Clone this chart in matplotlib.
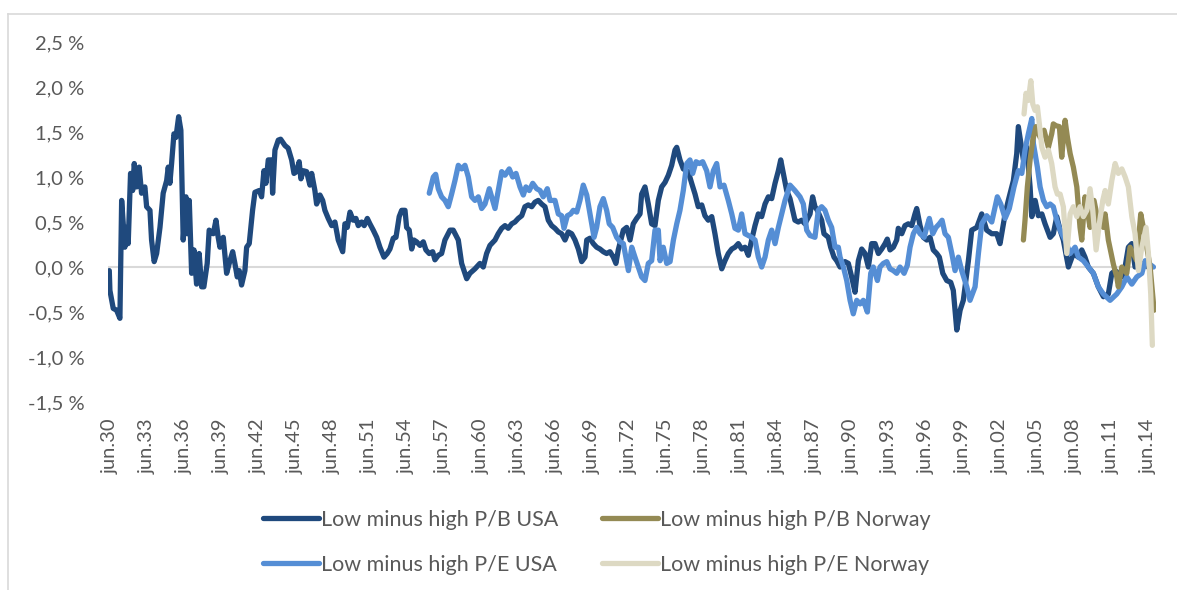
import matplotlib
matplotlib.use("Agg")
import matplotlib.pyplot as plt
from matplotlib.lines import Line2D
from matplotlib.ticker import FuncFormatter

# Low minus high P/B, USA (decimal year, % per month)
pb_usa_t = [1930.45, 1930.5, 1930.77, 1931.04, 1931.31, 1931.45, 1931.71, 1931.85, 1931.98, 1932.17,
            1932.34, 1932.47, 1932.66, 1932.87, 1933.06, 1933.33, 1933.47, 1933.74, 1933.87, 1934.08,
            1934.28, 1934.55, 1934.81, 1935.09, 1935.22, 1935.35, 1935.49, 1935.68, 1935.84, 1936.06,
            1936.24, 1936.43, 1936.65, 1936.75, 1936.92, 1937.11, 1937.30, 1937.51, 1937.72, 1937.92,
            1938.10, 1938.37, 1938.53, 1938.86, 1939.08, 1939.26, 1939.40, 1939.67, 1939.94, 1940.21,
            1940.43, 1940.61, 1940.80, 1940.96, 1941.15, 1941.42, 1941.56, 1941.77, 1942.04, 1942.23,
            1942.58, 1942.77, 1942.96, 1943.12, 1943.31, 1943.58, 1943.66, 1943.85, 1944.12, 1944.31,
            1944.66, 1944.92, 1945.20, 1945.39, 1945.60, 1945.81, 1945.95, 1946.14, 1946.41, 1946.68,
            1946.82, 1947.08, 1947.22, 1947.49, 1947.71, 1947.89, 1948.16, 1948.44, 1948.70, 1948.97,
            1949.33, 1949.51, 1949.70, 1949.92, 1950.18, 1950.40, 1950.59, 1950.86, 1951.07, 1951.32,
            1951.53, 1951.80, 1952.08, 1952.34, 1952.67, 1952.93, 1953.15, 1953.42, 1953.64, 1953.90,
            1954.10, 1954.37, 1954.50, 1954.71, 1954.91, 1955.09, 1955.31, 1955.58, 1955.85, 1956.06,
            1956.33, 1956.61, 1956.79, 1957.06, 1957.33, 1957.60, 1958.01, 1958.27, 1958.68, 1958.95,
            1959.36, 1959.62, 1960.03, 1960.43, 1960.70, 1960.97, 1961.24, 1961.65, 1961.91, 1962.19,
            1962.46, 1962.72, 1963.00, 1963.26, 1963.53, 1963.81, 1964.07, 1964.34, 1964.62, 1964.88,
            1965.15, 1965.42, 1965.69, 1965.96, 1966.23, 1966.50, 1966.77, 1967.04, 1967.31, 1967.58,
            1967.85, 1968.12, 1968.39, 1968.66, 1968.93, 1969.07, 1969.33, 1969.60, 1969.87, 1970.14,
            1970.41, 1970.68, 1970.95, 1971.22, 1971.43, 1971.62, 1972.03, 1972.30, 1972.57, 1972.83,
            1973.11, 1973.38, 1973.51, 1973.78, 1974.05, 1974.32, 1974.59, 1974.86, 1975.13, 1975.40,
            1975.67, 1975.94, 1976.21, 1976.35, 1976.61, 1976.88, 1977.28, 1977.56, 1977.83, 1978.09,
            1978.37, 1978.63, 1978.90, 1979.18, 1979.44, 1979.71, 1979.99, 1980.25, 1980.52, 1980.80,
            1981.06, 1981.33, 1981.60, 1981.87, 1982.14, 1982.41, 1982.68, 1982.95, 1983.22, 1983.49,
            1983.76, 1984.03, 1984.30, 1984.57, 1984.76, 1984.97, 1985.24, 1985.51, 1985.91, 1986.18,
            1986.45, 1986.72, 1987.13, 1987.34, 1987.53, 1987.72, 1988.07, 1988.26, 1988.61, 1988.80,
            1989.07, 1989.29, 1989.56, 1989.96, 1990.23, 1990.50, 1990.77, 1991.04, 1991.31, 1991.58,
            1991.85, 1992.12, 1992.39, 1992.66, 1992.93, 1993.20, 1993.38, 1993.60, 1993.87, 1994.14,
            1994.27, 1994.55, 1994.81, 1995.08, 1995.36, 1995.62, 1995.76, 1996.03, 1996.30, 1996.57,
            1996.84, 1997.10, 1997.38, 1997.59, 1997.87, 1998.19, 1998.51, 1998.72, 1998.86, 1999.00,
            1999.27, 1999.53, 1999.94, 2000.21, 2000.62, 2001.02, 2001.42, 2001.83, 2002.23, 2002.50,
            2002.91, 2003.17, 2003.58, 2003.85, 2003.98, 2004.39, 2004.66, 2004.93, 2005.07, 2005.34,
            2005.60, 2005.88, 2006.14, 2006.55, 2006.81, 2007.09, 2007.36, 2007.62, 2008.03, 2008.43,
            2008.83, 2009.11, 2009.37, 2009.64, 2010.05, 2010.45, 2010.86, 2011.26, 2011.54, 2011.81,
            2012.07, 2012.48, 2012.88, 2013.16, 2013.42, 2013.83, 2014.47]
pb_usa_v = [-0.04, -0.26, -0.46, -0.48, -0.57, 0.74, 0.22, 0.44, 0.26, 1.04,
            0.85, 1.15, 0.89, 1.11, 0.82, 0.89, 0.67, 0.63, 0.30, 0.06,
            0.15, 0.44, 0.82, 0.96, 1.11, 0.93, 1.15, 1.48, 1.44, 1.67,
            1.52, 0.30, 0.78, 0.37, 0.74, -0.07, 0.19, -0.19, 0.15, -0.22,
            -0.22, 0.04, 0.41, 0.37, 0.52, 0.33, 0.22, 0.33, -0.07, 0.07,
            0.17, 0.04, -0.11, -0.04, -0.20, -0.04, 0.22, 0.26, 0.63, 0.83,
            0.85, 0.78, 1.07, 0.93, 1.19, 1.19, 0.82, 1.30, 1.41, 1.42,
            1.35, 1.32, 1.19, 1.04, 1.06, 1.17, 0.98, 1.07, 1.06, 0.91,
            1.04, 0.85, 0.70, 0.80, 0.74, 0.63, 0.54, 0.46, 0.50, 0.30,
            0.17, 0.48, 0.44, 0.61, 0.52, 0.54, 0.46, 0.50, 0.46, 0.54,
            0.48, 0.41, 0.33, 0.22, 0.11, 0.15, 0.20, 0.32, 0.33, 0.56,
            0.63, 0.63, 0.44, 0.41, 0.20, 0.30, 0.28, 0.24, 0.28, 0.19,
            0.15, 0.17, 0.08, 0.13, 0.15, 0.30, 0.41, 0.41, 0.30, 0.04,
            -0.13, -0.07, -0.02, 0.04, 0.00, 0.15, 0.24, 0.30, 0.37, 0.43,
            0.46, 0.43, 0.48, 0.50, 0.54, 0.57, 0.67, 0.69, 0.67, 0.72,
            0.74, 0.70, 0.67, 0.52, 0.46, 0.43, 0.39, 0.37, 0.30, 0.39,
            0.37, 0.30, 0.20, 0.06, 0.11, 0.30, 0.32, 0.26, 0.22, 0.20,
            0.17, 0.15, 0.17, 0.11, 0.04, 0.19, 0.41, 0.44, 0.30, 0.48,
            0.54, 0.59, 0.81, 0.89, 0.70, 0.48, 0.46, 0.74, 0.89, 0.94,
            1.02, 1.13, 1.30, 1.33, 1.19, 1.09, 1.06, 0.93, 0.81, 0.67,
            0.69, 0.57, 0.52, 0.56, 0.37, 0.15, -0.02, 0.07, 0.15, 0.20,
            0.22, 0.26, 0.20, 0.22, 0.13, 0.30, 0.46, 0.59, 0.56, 0.70,
            0.78, 0.76, 0.93, 1.07, 1.19, 1.04, 0.85, 0.76, 0.52, 0.50,
            0.52, 0.48, 0.59, 0.78, 0.67, 0.63, 0.52, 0.37, 0.33, 0.22,
            0.11, 0.07, 0.00, 0.06, 0.04, -0.11, -0.28, 0.07, 0.20, 0.15,
            0.00, 0.26, 0.26, 0.15, 0.20, 0.26, 0.31, 0.19, 0.22, 0.30,
            0.43, 0.37, 0.46, 0.48, 0.46, 0.59, 0.65, 0.46, 0.33, 0.30,
            0.33, 0.19, 0.15, 0.11, -0.07, -0.15, -0.17, -0.26, -0.48, -0.70,
            -0.48, -0.37, 0.07, 0.41, 0.44, 0.59, 0.41, 0.37, 0.37, 0.26,
            0.59, 0.74, 0.96, 1.26, 1.56, 1.19, 1.33, 0.89, 0.56, 0.74,
            0.57, 0.59, 0.48, 0.33, 0.37, 0.56, 0.41, 0.30, 0.00, 0.15,
            0.11, 0.19, 0.11, 0.00, -0.07, -0.22, -0.33, -0.30, -0.07, -0.04,
            -0.07, -0.11, 0.22, 0.26, 0.00, 0.05, 0.00]

# Low minus high P/E, USA
pe_usa_t = [1956.33, 1956.66, 1956.85, 1957.06, 1957.33, 1957.60, 1957.87, 1958.14, 1958.41, 1958.68,
            1958.95, 1959.22, 1959.49, 1959.76, 1960.03, 1960.30, 1960.57, 1960.84, 1961.19, 1961.38,
            1961.65, 1961.91, 1962.19, 1962.46, 1962.80, 1963.08, 1963.35, 1963.67, 1963.94, 1964.15,
            1964.42, 1964.70, 1965.02, 1965.29, 1965.55, 1965.88, 1966.10, 1966.50, 1966.77, 1967.04,
            1967.23, 1967.50, 1967.77, 1967.98, 1968.26, 1968.52, 1968.79, 1969.07, 1969.33, 1969.66,
            1969.87, 1970.14, 1970.41, 1970.68, 1970.89, 1971.17, 1971.49, 1971.76, 1972.03, 1972.44,
            1972.71, 1972.97, 1973.24, 1973.51, 1973.78, 1974.05, 1974.32, 1974.59, 1974.86, 1975.00,
            1975.26, 1975.54, 1975.81, 1976.08, 1976.35, 1976.61, 1976.88, 1977.16, 1977.42, 1977.64,
            1977.91, 1978.18, 1978.45, 1978.77, 1979.04, 1979.31, 1979.58, 1979.85, 1980.17, 1980.52,
            1980.80, 1981.06, 1981.33, 1981.60, 1981.87, 1982.14, 1982.41, 1982.68, 1982.95, 1983.22,
            1983.49, 1983.76, 1984.03, 1984.30, 1984.57, 1984.84, 1985.11, 1985.51, 1985.91, 1986.32,
            1986.59, 1986.86, 1987.13, 1987.53, 1987.80, 1988.07, 1988.34, 1988.61, 1988.88, 1989.15,
            1989.42, 1989.56, 1989.83, 1990.10, 1990.37, 1990.63, 1990.91, 1991.18, 1991.44, 1991.77,
            1992.04, 1992.25, 1992.58, 1992.79, 1993.06, 1993.34, 1993.60, 1993.87, 1994.14, 1994.41,
            1994.74, 1995.00, 1995.22, 1995.49, 1995.76, 1996.03, 1996.36, 1996.57, 1996.78, 1997.06,
            1997.32, 1997.59, 1997.81, 1998.05, 1998.32, 1998.60, 1998.86, 1999.13, 1999.40, 1999.81,
            2000.07, 2000.48, 2000.75, 2001.02, 2001.42, 2001.83, 2002.28, 2002.56, 2002.91, 2003.25,
            2003.63, 2003.98, 2004.26, 2004.52, 2004.79, 2005.07, 2005.20, 2005.52, 2005.74, 2006.01,
            2006.28, 2006.55, 2006.81, 2007.09, 2007.36, 2007.76, 2008.17, 2008.57, 2008.84, 2009.24,
            2009.64, 2010.05, 2010.45, 2010.86, 2011.40, 2011.94, 2012.35, 2012.75, 2013.16, 2013.56,
            2013.97, 2014.24, 2014.51, 2014.91]
pe_usa_v = [0.82, 1.00, 1.03, 0.87, 0.78, 0.74, 0.67, 0.81, 0.96, 1.13,
            1.09, 1.13, 1.00, 0.78, 0.74, 0.78, 0.65, 0.70, 0.87, 0.78,
            0.65, 0.85, 1.06, 1.02, 1.09, 1.00, 1.04, 0.89, 0.80, 0.89,
            0.85, 0.93, 0.87, 0.85, 0.78, 0.87, 0.74, 0.74, 0.59, 0.57,
            0.43, 0.57, 0.59, 0.63, 0.61, 0.74, 0.91, 0.80, 0.59, 0.33,
            0.44, 0.67, 0.76, 0.63, 0.48, 0.44, 0.33, 0.28, 0.26, -0.04,
            0.22, 0.11, 0.00, -0.11, -0.15, 0.04, 0.07, 0.41, 0.41, 0.07,
            0.22, 0.04, 0.06, 0.30, 0.48, 0.63, 0.85, 1.15, 1.19, 1.04,
            1.17, 1.15, 1.17, 1.07, 0.89, 1.07, 1.15, 0.89, 0.91, 0.74,
            0.59, 0.43, 0.41, 0.59, 0.37, 0.35, 0.33, 0.30, 0.11, 0.00,
            0.11, 0.30, 0.41, 0.26, 0.44, 0.59, 0.74, 0.91, 0.85, 0.78,
            0.70, 0.41, 0.35, 0.33, 0.63, 0.67, 0.63, 0.52, 0.44, 0.22,
            0.22, 0.11, 0.00, -0.15, -0.37, -0.52, -0.37, -0.41, -0.37, -0.50,
            -0.07, 0.00, -0.15, 0.00, 0.04, 0.06, -0.02, -0.04, -0.07, 0.00,
            -0.07, 0.02, 0.22, 0.37, 0.44, 0.37, 0.33, 0.44, 0.54, 0.37,
            0.44, 0.48, 0.52, 0.37, 0.33, 0.15, -0.04, 0.11, -0.04, -0.22,
            -0.37, -0.22, 0.15, 0.48, 0.57, 0.50, 0.78, 0.70, 0.54, 0.65,
            0.89, 1.07, 1.04, 1.30, 1.48, 1.65, 1.37, 1.11, 0.89, 0.74,
            0.67, 0.70, 0.67, 0.52, 0.41, 0.30, 0.15, 0.22, 0.11, 0.07,
            0.00, -0.07, -0.22, -0.30, -0.37, -0.30, -0.22, -0.11, -0.19, -0.11,
            -0.07, 0.07, 0.04, 0.00]

# Low minus high P/B, Norway
pb_nor_t = [2004.39, 2004.52, 2004.71, 2004.93, 2005.15, 2005.41, 2005.74, 2006.06, 2006.41, 2006.68,
            2006.81, 2007.03, 2007.30, 2007.49, 2007.76, 2007.95, 2008.17, 2008.43, 2008.71, 2008.97,
            2009.11, 2009.37, 2009.64, 2009.78, 2010.10, 2010.45, 2010.86, 2011.00, 2011.26, 2011.67,
            2011.94, 2012.07, 2012.35, 2012.75, 2013.02, 2013.28, 2013.56, 2013.88, 2014.09, 2014.37,
            2014.64, 2014.96]
pb_nor_v = [0.30, 0.52, 0.89, 1.19, 1.41, 1.56, 1.44, 1.52, 1.33, 1.48,
            1.59, 1.57, 1.56, 1.22, 1.63, 1.44, 1.26, 1.11, 0.89, 0.44,
            0.30, 0.78, 0.56, 0.44, 0.74, 0.50, 0.44, 0.59, 0.30, 0.03,
            -0.11, -0.22, 0.00, -0.07, 0.22, 0.15, 0.07, 0.59, 0.44, 0.22,
            0.00, -0.48]

# Low minus high P/E, Norway
pe_nor_t = [2004.44, 2004.60, 2004.79, 2004.99, 2005.15, 2005.33, 2005.52, 2005.68, 2005.88, 2006.14,
            2006.41, 2006.68, 2006.95, 2007.14, 2007.36, 2007.62, 2007.90, 2008.17, 2008.43, 2008.71,
            2008.97, 2009.24, 2009.52, 2009.78, 2010.00, 2010.27, 2010.53, 2010.81, 2011.00, 2011.26,
            2011.54, 2011.81, 2012.07, 2012.35, 2012.62, 2012.88, 2013.16, 2013.42, 2013.69, 2013.97,
            2014.31, 2014.50, 2014.69, 2014.82]
pe_nor_v = [1.70, 1.93, 1.85, 2.07, 1.81, 1.74, 1.78, 1.59, 1.33, 1.22,
            1.30, 1.15, 0.89, 0.81, 0.81, 0.67, 0.15, 0.59, 0.67, 0.56,
            0.67, 0.56, 0.63, 0.87, 0.63, 0.19, 0.48, 0.74, 0.85, 0.70,
            0.96, 1.15, 1.04, 1.09, 1.00, 0.89, 0.56, 0.37, -0.04, 0.22,
            0.44, 0.15, -0.30, -0.87]

tick_years = list(range(1930, 2015, 3))
tick_labels = [f"jun.{y % 100:02d}" for y in tick_years]

series = [
    ("Low minus high P/B USA", pb_usa_t, pb_usa_v, "#1f497d"),
    ("Low minus high P/E USA", pe_usa_t, pe_usa_v, "#558ed5"),
    ("Low minus high P/B Norway", pb_nor_t, pb_nor_v, "#948a54"),
    ("Low minus high P/E Norway", pe_nor_t, pe_nor_v, "#ddd9c3"),
]

plt.rcParams['font.family'] = ['Lato', 'DejaVu Sans']
grey = '#595959'

fig = plt.figure(figsize=(11.77, 5.90), dpi=100)
ax = fig.add_axes([0.0918, 0.3186, 0.8902, 0.6102])

ax.axhline(0, color='#d9d9d9', linewidth=1.5, zorder=1)
handles = []
for label, t, v, color in series:
    ln, = ax.plot(t, v, color=color, linewidth=3.8, solid_joinstyle='round',
                  solid_capstyle='round', label=label, zorder=2)
    handles.append(ln)

ax.set_xlim(1930.35, 2015.1)
ax.set_ylim(-1.5, 2.5)
ax.set_yticks([-1.5, -1.0, -0.5, 0.0, 0.5, 1.0, 1.5, 2.0, 2.5])
ax.yaxis.set_major_formatter(FuncFormatter(lambda v, p: f"{v:.1f}".replace('.', ',') + " %"))
ax.set_xticks([y + 0.5 for y in tick_years])
ax.set_xticklabels(tick_labels, rotation=90)
ax.tick_params(axis='both', length=0, colors=grey, labelsize=14.5)
ax.tick_params(axis='y', pad=17)
ax.tick_params(axis='x', pad=12)
for s in ax.spines.values():
    s.set_visible(False)

leg = fig.legend(handles=handles, loc='center', bbox_to_anchor=(0.507, 0.081), ncol=2,
                 frameon=False, fontsize=15.5, handlelength=2.6, handletextpad=0.12,
                 columnspacing=2.0, labelspacing=1.15)
for txt in leg.get_texts():
    txt.set_color(grey)

# outer chart border (only top and left edges are visible)
fig.add_artist(Line2D([8 / 1177, 1.0], [1 - 14 / 590, 1 - 14 / 590], color='#d9d9d9', linewidth=1.2))
fig.add_artist(Line2D([8 / 1177, 8 / 1177], [0.0, 1 - 14 / 590], color='#d9d9d9', linewidth=1.2))

fig.savefig("out.png", dpi=100)
